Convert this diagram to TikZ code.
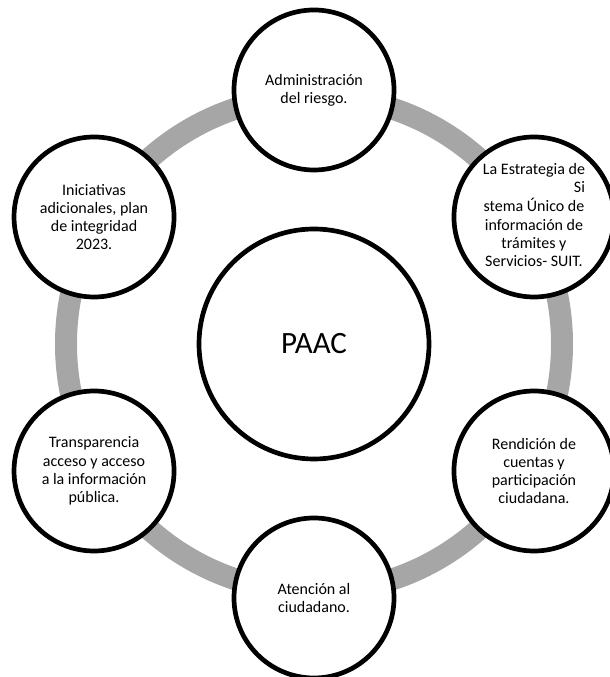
\documentclass[tikz,border=0pt]{standalone}
\usepackage{fontspec}
\setmainfont{Carlito}
\usetikzlibrary{calc}
\definecolor{ringgray}{HTML}{A6A6A6}

\begin{document}
\begin{tikzpicture}[x    = 1pt,
                    y    = 1pt,
                    font = {\fontsize{16}{18.3}\selectfont}]
% style of circles
\tikzset{topic/.style={circle,draw=black,line width=4.7pt,fill=white,
                       minimum size=160pt,inner sep=0pt,align=center},
         core/.style={topic,minimum size=230pt,font={\fontsize{31}{36}\selectfont}},
         ring/.style={draw=ringgray,line width=22pt}}
% frame
\useasboundingbox (0,0) rectangle (610,677);
\clip (0,0) rectangle (610,677);
\coordinate (o) at (314,333);
% grey ring
\draw[ring] (o) circle[radius=248];
% centre
\node[core] (paac) at (o) {PAAC};
% topics round the ring
\node[topic] (riesgo)        at ($(o)+(90:254)$)  {Administración\\del riesgo.};
\node[topic] (suit)          at ($(o)+(30:254)$)
  {\begin{tabular}{@{}c@{}}
   La Estrategia de\\
   \multicolumn{1}{@{}r@{}}{Si}\\
   stema Único de\\
   información de\\
   trámites y\\
   Servicios- SUIT.
   \end{tabular}};
\node[topic] (rendicion)     at ($(o)+(-30:254)$) {Rendición de\\cuentas y\\participación\\ciudadana.};
\node[topic] (atencion)      at ($(o)+(-90:254)$) {Atención al\\ciudadano.};
\node[topic] (transparencia) at ($(o)+(210:254)$) {Transparencia\\acceso y acceso\\a la información\\pública.};
\node[topic] (iniciativas)   at ($(o)+(150:254)$) {Iniciativas\\adicionales, plan\\de integridad\\2023.};
\end{tikzpicture}
\end{document}
